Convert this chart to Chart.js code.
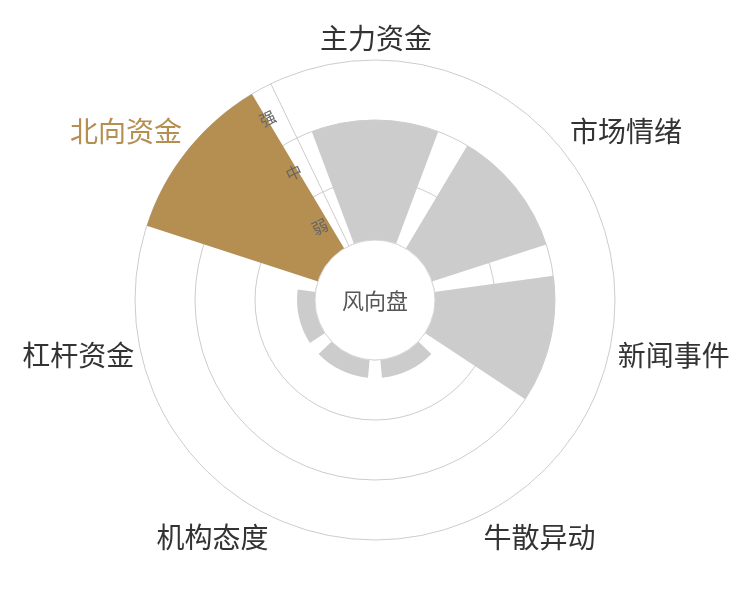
<!DOCTYPE html>
<html>
<head>
<meta charset="utf-8">
<title>风向盘</title>
<script src="https://cdn.jsdelivr.net/npm/chart.js@4.4.1/dist/chart.umd.min.js"></script>
<style>
  html, body { margin: 0; padding: 0; background: #fff; }
  .wrap { width: 750px; height: 600px; }
</style>
</head>
<body>
<div class="wrap"><canvas id="dialChart"></canvas></div>
<script>
const categories = ["主力资金", "市场情绪", "新闻事件", "牛散异动", "机构态度", "杠杆资金", "北向资金"];
const levels = [2, 2, 2, 0.3, 0.3, 0.3, 3];
const levelNames = ["弱", "中", "强"];
const selected = "北向资金";

const FONT = '"Noto Sans CJK SC", "Noto Sans", sans-serif';
const BROWN = "#b58f52";
const GRAY = "#cccccc";

const slot = 360 / categories.length;
const barAngle = slot * 0.8;
const gapAngle = slot - barAngle;
const rad = (deg) => deg * Math.PI / 180;

// polarArea has no gap between slices, so each bar is followed by an empty slice
const sliceData = [];
const sliceColors = [];
const sliceAngles = [];
categories.forEach((name, i) => {
  sliceData.push(levels[i], null);
  sliceColors.push(name === selected ? BROWN : GRAY, "rgba(0,0,0,0)");
  sliceAngles.push(barAngle, gapAngle);
});

const dialPlugin = {
  id: "dial",
  afterDatasetsDraw(chart) {
    const r = chart.scales.r;
    const ctx = chart.ctx;
    const cx = r.xCenter;
    const cy = r.yCenter;
    const hole = r.getDistanceFromCenterForValue(0);
    const outer = r.getDistanceFromCenterForValue(r.max);

    ctx.save();

    // radius axis sits in the gap before the first category
    const axisAngle = r.getIndexAngle(0) - rad(gapAngle / 2);
    const a = axisAngle - Math.PI / 2;
    ctx.strokeStyle = "#cccccc";
    ctx.lineWidth = 1;
    ctx.beginPath();
    ctx.moveTo(cx + Math.cos(a) * hole, cy + Math.sin(a) * hole);
    ctx.lineTo(cx + Math.cos(a) * outer, cy + Math.sin(a) * outer);
    ctx.stroke();

    // centre hole
    ctx.beginPath();
    ctx.arc(cx, cy, hole, 0, Math.PI * 2);
    ctx.fillStyle = "#fff";
    ctx.fill();
    ctx.strokeStyle = "#d6d6d6";
    ctx.stroke();
    ctx.fillStyle = "#555";
    ctx.font = "22px " + FONT;
    ctx.textAlign = "center";
    ctx.textBaseline = "middle";
    ctx.fillText("风向盘", cx, cy + 1);

    // 弱 / 中 / 强 along the axis
    ctx.font = "16px " + FONT;
    ctx.fillStyle = "#666";
    levelNames.forEach((t, i) => {
      const d = r.getDistanceFromCenterForValue(i + 0.5);
      const x = cx + Math.cos(a) * d + Math.cos(a - Math.PI / 2) * 18;
      const y = cy + Math.sin(a) * d + Math.sin(a - Math.PI / 2) * 18;
      ctx.save();
      ctx.translate(x, y);
      ctx.rotate(axisAngle);
      ctx.fillText(t, 0, 0);
      ctx.restore();
    });

    // category names outside the ring
    ctx.font = "28px " + FONT;
    const dist = outer + 8;
    categories.forEach((name, i) => {
      const p = r.getPointPosition(i, dist, rad(barAngle / 2));
      const dx = p.x - cx;
      const dy = p.y - cy;
      ctx.textAlign = Math.abs(dx) / dist < 0.3 ? "center" : (dx > 0 ? "left" : "right");
      ctx.textBaseline = Math.abs(dy) / dist < 0.3 ? "middle" : (dy > 0 ? "top" : "bottom");
      ctx.fillStyle = name === selected ? BROWN : "#333";
      ctx.fillText(name, p.x + 1, p.y);
    });

    ctx.restore();
  }
};

new Chart(document.getElementById("dialChart"), {
  type: "polarArea",
  data: {
    labels: categories,
    datasets: [{
      data: sliceData,
      backgroundColor: sliceColors,
      angle: sliceAngles,
      borderWidth: 0
    }]
  },
  options: {
    responsive: true,
    maintainAspectRatio: false,
    animation: false,
    layout: { padding: { top: 60, bottom: 60, left: 0, right: 0 } },
    plugins: {
      legend: { display: false },
      tooltip: { enabled: false }
    },
    scales: {
      r: {
        min: -1,
        max: 3,
        startAngle: -barAngle / 2,
        ticks: { display: false, stepSize: 1 },
        grid: { circular: true, color: "#cccccc", lineWidth: 1 },
        angleLines: { display: false },
        pointLabels: { display: false }
      }
    }
  },
  plugins: [dialPlugin]
});
</script>
</body>
</html>
